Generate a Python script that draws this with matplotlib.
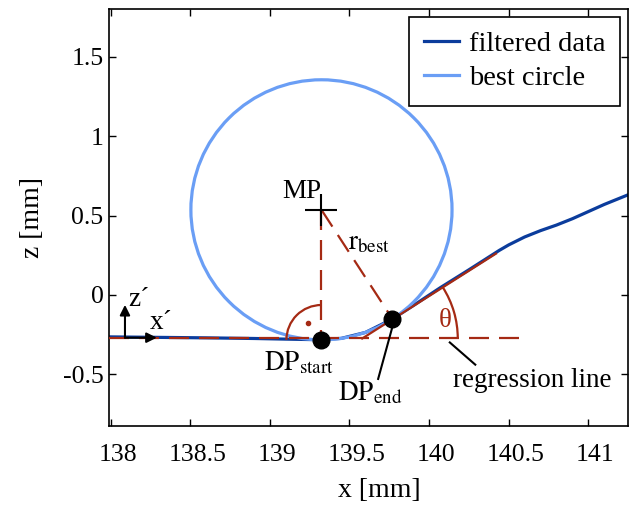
import matplotlib
matplotlib.use('Agg')
import matplotlib.pyplot as plt
from matplotlib.patches import Circle, Arc
from matplotlib.lines import Line2D
from matplotlib.transforms import ScaledTranslation

plt.rcParams['font.family'] = ['Liberation Serif', 'DejaVu Serif']
plt.rcParams['mathtext.fontset'] = 'stix'

# filtered measurement profile
fx = [138.0, 138.3, 138.6, 138.9, 139.1, 139.32, 139.45, 139.6, 139.77, 139.9,
      140.07, 140.25, 140.44, 140.5, 140.6, 140.7, 140.8, 140.9, 141.0, 141.1, 141.26]
fz = [-0.265, -0.268, -0.271, -0.275, -0.279, -0.283, -0.274, -0.237, -0.152, -0.068,
      0.045, 0.158, 0.28, 0.315, 0.365, 0.405, 0.44, 0.48, 0.525, 0.57, 0.635]

# best circle
mp = (139.324, 0.536)
r_best = 0.82

# detachment points
dp_start = (139.324, -0.284)
dp_end = (139.77, -0.152)

# reference / regression lines
z_ref = -0.275
reg_x = [139.58, 140.42]
reg_z = [-0.275, 0.26]
theta_deg = 32.5

red = '#a52a14'
dark = '#0b3c9c'
light = '#6a9ef5'
dash = (0, (9, 4.5))

def main():
    fig = plt.figure(figsize=(6.34, 5.07), dpi=100)
    ax = fig.add_axes([0.172, 0.160, 0.819, 0.8225])

    ax.plot(fx, fz, color=dark, lw=2.3, zorder=2)
    ax.add_patch(Circle(mp, r_best, fill=False, ec=light, lw=2.3, zorder=3))

    # construction lines
    ax.plot([137.99, 140.63], [z_ref, z_ref], color=red, lw=1.6, ls=dash, zorder=4)
    ax.plot([mp[0], dp_start[0]], [mp[1], dp_start[1]], color=red, lw=1.6, ls=dash, zorder=4)
    ax.plot([mp[0], dp_end[0]], [mp[1], dp_end[1]], color=red, lw=1.6, ls=dash, zorder=4)
    ax.plot(reg_x, reg_z, color=red, lw=1.6, zorder=4)
    ax.add_patch(Arc(dp_start, 0.44, 0.44, theta1=90, theta2=180, color=red, lw=1.6, zorder=4))
    ax.plot([139.24], [-0.18], 'o', color=red, ms=3, zorder=4)
    ax.add_patch(Arc((reg_x[0], reg_z[0]), 1.2, 1.2, theta1=0, theta2=theta_deg,
                     color=red, lw=1.6, zorder=4))

    ax.plot(*mp, '+', color='k', ms=23, mew=1.5, zorder=5)
    ax.plot([dp_start[0], dp_end[0]], [dp_start[1], dp_end[1]], 'o', color='k', ms=12, zorder=6)

    # labels in the plot
    fs = 19.5
    ax.text(139.20, 0.649, 'MP', fontsize=fs, ha='center', va='center')
    ax.text(139.62, 0.33, r'$\mathrm{r}_{\mathrm{best}}$', fontsize=fs, ha='center', va='center')
    ax.text(139.18, -0.43, r'$\mathrm{DP}_{\mathrm{start}}$', fontsize=fs, ha='center', va='center')
    ax.text(139.63, -0.62, r'$\mathrm{DP}_{\mathrm{end}}$', fontsize=fs, ha='center', va='center')
    ax.text(140.645, -0.54, 'regression line', fontsize=fs, ha='center', va='center')
    ax.text(140.10, -0.16, 'θ', fontsize=fs, ha='center', va='center', color=red)
    ax.plot([139.68, 139.77], [-0.53, -0.20], color='k', lw=1.5, zorder=5)
    ax.plot([140.29, 140.13], [-0.44, -0.30], color='k', lw=1.5, zorder=5)

    # local coordinate system
    ap = dict(arrowstyle='-|>', color='k', lw=1.5, mutation_scale=15, shrinkA=0, shrinkB=0)
    ax.annotate('', xy=(138.09, -0.063), xytext=(138.09, -0.27), arrowprops=ap, zorder=6)
    ax.annotate('', xy=(138.29, -0.27), xytext=(138.09, -0.27), arrowprops=ap, zorder=6)
    ax.text(138.18, -0.03, 'z´', fontsize=fs, ha='center', va='center')
    ax.text(138.32, -0.175, 'x´', fontsize=fs, ha='center', va='center')

    ax.set_xlim(137.99, 141.251)
    ax.set_ylim(-0.826, 1.803)
    ax.set_xticks([138, 138.5, 139, 139.5, 140, 140.5, 141])
    ax.set_xticklabels(['138', '138.5', '139', '139.5', '140', '140.5', '141'])
    ax.set_yticks([-0.5, 0, 0.5, 1, 1.5])
    ax.set_yticklabels(['-0.5', '0', '0.5', '1', '1.5'])
    ax.tick_params(direction='in', length=5, width=1, top=True, right=True, labelsize=18.5)
    ax.tick_params(axis='x', pad=13)
    ax.tick_params(axis='y', pad=4)
    for lab in ax.get_xticklabels():
        lab.set_transform(lab.get_transform() + ScaledTranslation(0.07, 0, fig.dpi_scale_trans))
    for s in ax.spines.values():
        s.set_linewidth(1.2)

    ax.set_xlabel('x [mm]', fontsize=20, labelpad=9)
    ax.xaxis.label.set_x(0.52)
    ax.set_ylabel('z [mm]', fontsize=20, labelpad=13)

    handles = [Line2D([], [], color=dark, lw=2.3), Line2D([], [], color=light, lw=2.3)]
    leg = ax.legend(handles, ['filtered data', 'best circle'], loc='upper right',
                    bbox_to_anchor=(0.984, 0.981), borderaxespad=0, fontsize=20.5,
                    fancybox=False, edgecolor='k', framealpha=1, handlelength=1.25,
                    handletextpad=0.35, labelspacing=0.3, borderpad=0.5)
    leg.get_frame().set_linewidth(1.2)

    fig.savefig('out.png', dpi=100)

if __name__ == '__main__':
    main()
